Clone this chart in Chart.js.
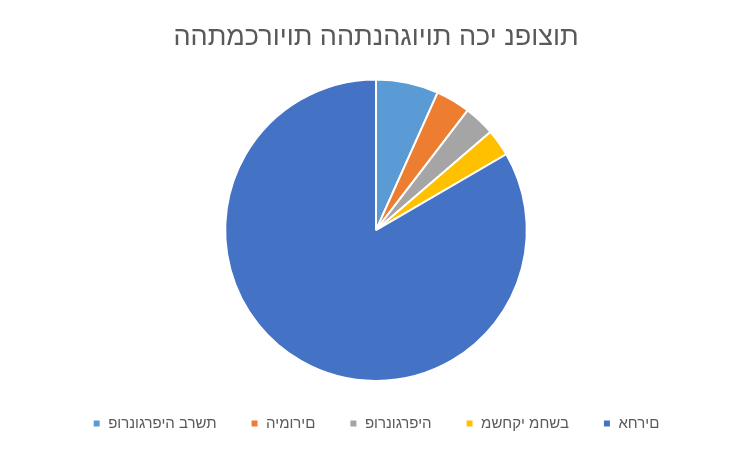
<!DOCTYPE html>
<html>
<head>
<meta charset="utf-8">
<script src="https://cdn.jsdelivr.net/npm/chart.js@4"></script>
<style>
  html, body { margin: 0; padding: 0; background: #fff; }
  #wrap { width: 752px; height: 452px; }
</style>
</head>
<body>
<div id="wrap"><canvas id="pie"></canvas></div>
<script>
// behavioural addictions - share of each type (%)
const title = "ההתמכרויות ההתנהגויות הכי נפוצות";
const labels = ["פורנוגרפיה ברשת", "הימורים", "פורנוגרפיה", "משחקי מחשב", "אחרים"];
const values = [6.7, 3.7, 3.3, 2.9, 83.4];
const colors = ["#5B9BD5", "#ED7D31", "#A5A5A5", "#FFC000", "#4472C4"];

const fontFamily = "'Liberation Sans', Arial, sans-serif";

// this renderer has no bidi support, so hebrew is handed over in visual order
const visual = (s) => s.split("").reverse().join("");

const config = {
  type: "pie",
  data: {
    labels: labels,
    datasets: [{
      data: values,
      backgroundColor: colors,
      borderColor: "#ffffff",
      borderWidth: 2,
    }],
  },
  options: {
    responsive: true,
    maintainAspectRatio: false,
    animation: false,
    layout: { padding: { top: 0, bottom: 11 } },
    plugins: {
      title: {
        display: true,
        text: visual(title),
        color: "#595959",
        font: { family: fontFamily, size: 27, weight: "normal" },
        padding: { top: 21, bottom: 25 },
      },
      legend: {
        position: "bottom",
        labels: {
          color: "#595959",
          font: { family: fontFamily, size: 15 },
          boxWidth: 8,
          boxHeight: 8,
          padding: 34,
          generateLabels: (chart) => {
            const items = Chart.controllers.pie.overrides.plugins.legend.labels.generateLabels(chart);
            return items.map((it) => ({ ...it, text: visual(it.text) }));
          },
        },
      },
      tooltip: { enabled: false },
    },
  },
};

new Chart(document.getElementById("pie"), config);
</script>
</body>
</html>
